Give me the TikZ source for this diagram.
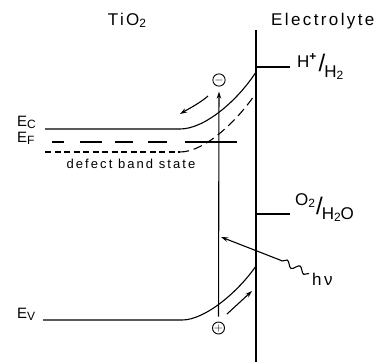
\documentclass[tikz,border=0pt]{standalone}
\usepackage{fontspec}
\setmainfont{Liberation Sans}
\usetikzlibrary{arrows.meta,decorations.pathmorphing}

% lowered, slightly smaller index letter
\newcommand{\lowsub}[1]{\raisebox{-2.5pt}{\fontsize{12}{12}\selectfont #1}}
\newcommand{\bigslash}{\raisebox{-4pt}{\fontsize{24}{24}\selectfont /}}

\begin{document}
\begin{tikzpicture}[x=1pt, y=-1pt,
    myline/.style={line width=1.1pt},
    mylabel/.style={font=\fontsize{17}{19}\selectfont\addfontfeature{LetterSpace=14}, inner sep=0pt},
    myband/.style={font=\fontsize{15}{17}\selectfont\addfontfeature{LetterSpace=10}, inner sep=0pt},
    mysmall/.style={font=\fontsize{13}{15}\selectfont\addfontfeature{LetterSpace=16}, inner sep=0pt},
    mycharge/.style={circle, draw, line width=0.9pt, inner sep=0pt, minimum size=12pt, font=\fontsize{12}{12}\selectfont},
    myarrow/.style={myline, -{Stealth[length=7pt, width=4.5pt]}}
]
    \useasboundingbox (0,0) rectangle (374,362);

    % Headings
    \node[mylabel, anchor=base] (tio) at (127,25) {TiO\lowsub{2}};
    \node[mylabel, anchor=base west] (elec) at (271,25) {Electrolyte};

    % Interface
    \draw[myline] (256,30) -- (256,362);

    % Redox levels
    \draw[myline] (256,67) -- (290,67);
    \draw[myline] (256,214) -- (290,214);
    \node[mylabel, anchor=base west] (hh) at (297,67)
        {H\textsuperscript{\textbf{+}}\kern0pt\bigslash\kern-1pt\raisebox{-10pt}{H\lowsub{2}}};
    \node[mylabel, anchor=base west] (oh) at (295,205)
        {O\lowsub{2}\kern1pt\raisebox{-5pt}{\bigslash}\kern-1pt\raisebox{-14pt}{H\lowsub{2}O}};

    % Band edges
    \node[myband, anchor=base west] (ec) at (17,126) {E\lowsub{C}};
    \node[myband, anchor=base west] (ef) at (17,142) {E\lowsub{F}};
    \node[myband, anchor=base west] (ev) at (17,318) {E\lowsub{V}};
    \draw[myline] (45,129) -- (180,129) .. controls (205,129) and (238,100) .. (256,72);
    \draw[myline, dash pattern=on 12pt off 16pt on 22pt off 13pt on 18pt off 15pt on 19pt off 18pt on 52pt off 10pt]
        (52,142) -- (237,142);
    \draw[myline, dash pattern=on 6pt off 3.5pt] (45,152) -- (180,152);
    \draw[myline, dash pattern=on 9pt off 5pt] (180,152) .. controls (205,152) and (238,120) .. (256,93);
    \draw[myline] (43,320) -- (182,320) .. controls (205,320) and (238,292) .. (256,266);
    \node[mysmall, anchor=base] (defect) at (131,168) {defect band state};

    % Charges and carrier paths
    \node[mycharge] (minus) at (219,80) {$-$};
    \node[mycharge] (plus) at (218.5,328) {$+$};
    \draw[myarrow, shorten <=5pt, shorten >=5pt] (plus) -- (minus);
    \draw[myarrow] (208,96) .. controls (200,103) and (190,108) .. (180,114);
    \draw[myarrow] (227,314) -- (252,291);

    % Light
    \node[mylabel, anchor=base west] (hv) at (312,285) {hν};
    \coordinate (kink) at (280,260);
    \coordinate (hit) at (221,237);
    \draw[myline, decorate, decoration={snake, segment length=14pt, amplitude=3pt}]
        ([xshift=-3pt, yshift=-1pt]hv.north west) -- (kink);
    \draw[myarrow] (kink) -- (hit);
\end{tikzpicture}
\end{document}
